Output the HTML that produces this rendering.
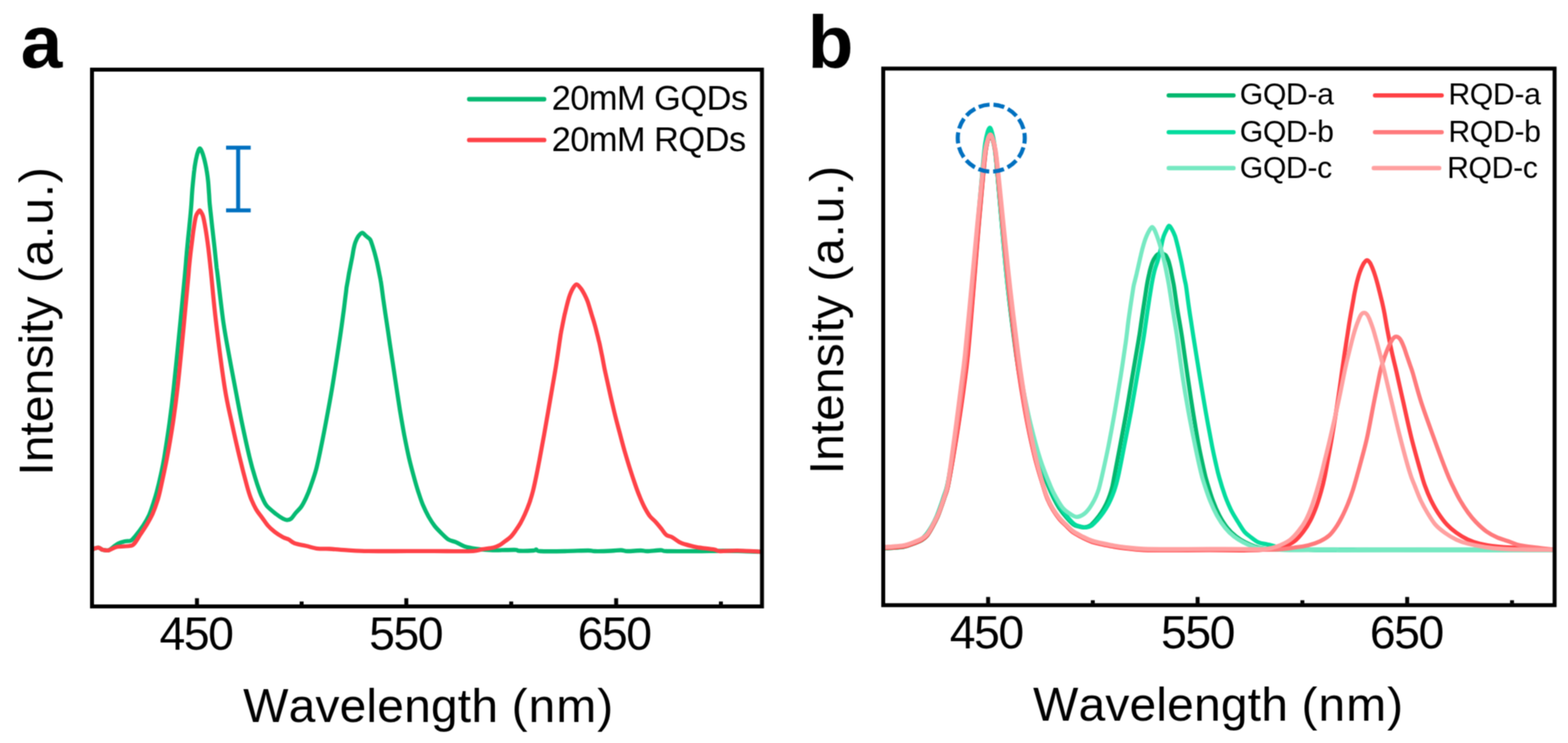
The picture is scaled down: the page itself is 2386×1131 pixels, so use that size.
<!DOCTYPE html>
<html lang="en"><head><meta charset="utf-8"><title>EL spectra</title>
<style>
html,body{margin:0;padding:0;background:#fff;}
body{width:2386px;height:1131px;overflow:hidden;}
svg{display:block;}
text{font-family:"Liberation Sans",sans-serif;fill:#000;font-kerning:none;}
.pl{font-weight:bold;font-size:114px;}
.ax{font-size:73px;letter-spacing:0.25px;}
.pw{letter-spacing:1.5px;}
.yl{letter-spacing:0.12px;}
.yl .pw{letter-spacing:1.15px;}
.tk{font-size:70.5px;text-anchor:middle;letter-spacing:-2.2px;}
.lga{font-size:52.4px;letter-spacing:-0.85px;}
.lgb{font-size:46px;letter-spacing:-0.6px;}
.c{fill:none;stroke-linejoin:round;stroke-linecap:butt;}
</style></head><body>
<svg width="2386" height="1131" viewBox="0 0 2386 1131">
<defs><filter id="soft" x="0" y="0" width="2386" height="1131" filterUnits="userSpaceOnUse" color-interpolation-filters="sRGB"><feConvolveMatrix order="3" kernelMatrix="1 2 1 2 4 2 1 2 1" divisor="16" edgeMode="duplicate" preserveAlpha="true"/></filter></defs>
<g filter="url(#soft)">
<rect width="2386" height="1131" fill="#fff"/>
<g id="panel-a">
<path class="c" d="M139.7,836.4C141.3,836.0 146.7,833.6 149.5,833.7C152.3,833.8 153.8,836.4 156.5,837.0C159.2,837.6 162.8,838.3 165.4,837.6C168.0,836.9 169.7,834.7 172.0,833.0C174.3,831.3 176.5,829.0 179.5,827.5C182.5,826.0 186.8,824.8 190.0,824.0C193.2,823.2 196.3,824.3 199.0,823.0C201.7,821.7 202.8,819.9 206.0,816.0C209.2,812.1 214.6,805.1 218.1,799.8C221.5,794.5 224.3,789.7 226.8,784.3C229.3,778.8 231.0,772.9 233.0,767.0C234.9,761.1 236.5,756.4 238.5,748.9C240.5,741.4 243.0,730.8 244.9,722.0C246.8,713.1 247.8,709.1 250.0,696.0C252.1,682.8 255.6,660.6 258.0,643.0C260.4,625.3 261.7,615.5 264.4,590.0C267.2,564.5 271.7,518.3 274.5,490.0C277.3,461.7 279.7,437.0 281.2,420.0C282.8,403.0 283.1,396.4 283.9,387.8C284.6,379.2 285.1,374.9 285.7,368.4C286.3,361.9 287.0,355.4 287.7,348.9C288.3,342.4 289.0,335.6 289.6,329.5C290.2,323.3 290.7,317.3 291.1,312.0C291.5,306.7 291.8,301.5 292.0,297.5C292.3,293.5 292.5,291.0 292.7,287.8C293.0,284.6 293.3,281.3 293.6,278.1C293.9,274.9 294.3,271.6 294.6,268.4C294.9,265.2 295.2,261.9 295.7,258.6C296.1,255.4 296.5,252.1 297.1,248.9C297.6,245.7 298.2,242.4 299.0,239.2C299.7,236.0 300.8,231.9 301.7,229.7C302.5,227.5 303.3,225.9 304.2,225.9C305.1,225.9 305.8,227.4 306.8,229.7C307.8,231.9 309.1,236.0 310.0,239.2C311.0,242.4 311.7,245.7 312.4,248.9C313.1,252.1 313.8,255.4 314.3,258.6C314.9,261.9 315.4,265.2 315.8,268.4C316.2,271.7 316.6,274.9 316.9,278.1C317.2,281.3 317.4,284.6 317.6,287.8C317.8,291.0 318.0,293.8 318.3,297.5C318.5,301.2 318.6,304.7 319.1,310.0C319.6,315.3 320.5,323.0 321.2,329.5C321.9,336.0 322.5,342.4 323.3,348.9C324.0,355.4 324.8,361.9 325.5,368.4C326.3,374.9 326.9,381.3 327.6,387.8C328.3,394.3 329.0,401.9 329.6,407.3C330.3,412.7 329.6,406.2 331.3,420.0C333.0,433.8 337.0,469.9 339.8,489.9C342.7,509.9 345.4,523.3 348.4,540.0C351.4,556.7 354.5,572.8 357.8,590.0C361.1,607.2 364.4,625.3 368.0,643.0C371.7,660.6 376.3,681.9 379.7,695.9C383.0,709.9 385.5,718.1 388.2,726.9C390.8,735.8 393.5,743.4 395.5,748.9C397.5,754.4 398.5,756.4 400.2,759.9C401.9,763.4 402.6,766.2 405.9,770.0C409.2,773.8 415.9,779.1 420.0,782.4C424.1,785.6 427.8,788.0 430.6,789.5C433.4,791.0 434.7,791.6 436.8,791.6C438.9,791.6 440.8,791.3 443.0,789.5C445.2,787.7 447.4,783.7 450.0,780.7C452.6,777.7 455.7,775.3 458.4,771.4C461.0,767.6 463.4,762.8 465.8,757.6C468.2,752.4 470.3,747.3 472.8,739.9C475.4,732.6 478.6,723.9 481.3,713.6C484.0,703.4 486.6,690.2 489.0,678.4C491.4,666.6 493.2,657.7 495.9,643.0C498.7,628.2 502.2,609.7 505.5,590.0C508.8,570.2 513.4,539.8 515.7,524.5C518.1,509.2 518.3,506.8 519.6,498.0C520.8,489.2 522.0,480.3 523.2,471.5C524.3,462.7 525.7,450.7 526.5,445.0C527.2,439.2 527.0,440.0 527.4,437.0C527.9,434.1 528.7,430.5 529.2,427.3C529.8,424.0 530.2,420.8 530.8,417.5C531.4,414.3 532.0,411.0 532.7,407.8C533.3,404.6 534.0,401.3 534.6,398.1C535.3,394.9 535.9,391.6 536.5,388.4C537.1,385.1 537.5,381.9 538.2,378.6C538.9,375.4 539.5,372.2 540.7,369.0C541.9,365.8 543.6,362.1 545.3,359.6C547.1,357.2 549.3,354.5 551.2,354.4C553.1,354.3 555.1,357.6 557.0,359.2C558.9,360.8 561.4,362.4 562.8,364.0C564.2,365.6 564.2,366.5 565.1,369.0C566.0,371.4 567.2,375.4 568.2,378.6C569.2,381.8 570.2,385.2 571.0,388.4C571.9,391.7 572.7,394.9 573.4,398.1C574.2,401.3 574.8,404.6 575.5,407.8C576.1,411.0 576.8,414.2 577.4,417.5C578.0,420.7 578.8,424.1 579.3,427.3C579.9,430.6 580.2,432.6 580.8,437.0C581.4,441.4 582.1,447.2 583.0,453.8C584.0,460.4 585.2,469.1 586.3,476.8C587.5,484.5 588.6,491.9 589.8,499.8C591.0,507.8 592.0,515.2 593.4,524.5C594.8,533.8 596.4,544.4 598.1,555.4C599.8,566.4 601.6,578.9 603.4,590.7C605.2,602.5 606.9,614.3 608.8,626.1C610.8,637.9 612.8,649.7 615.0,661.5C617.3,673.3 619.8,685.9 622.3,696.7C624.8,707.6 627.7,718.0 630.0,726.5C632.3,735.0 633.9,740.6 636.2,747.7C638.5,754.7 640.9,762.4 643.6,768.8C646.3,775.3 649.3,781.2 652.2,786.5C655.2,791.7 658.1,796.3 661.3,800.5C664.5,804.6 668.0,808.0 671.5,811.4C675.0,814.8 678.3,818.7 682.1,821.1C685.9,823.5 690.4,823.8 694.5,825.6C698.6,827.4 701.8,830.1 706.8,831.7C711.8,833.3 717.3,834.3 724.5,835.3C731.7,836.3 740.2,837.2 750.0,837.5C759.8,837.8 776.3,836.8 783.0,837.0C789.7,837.2 785.2,838.3 790.0,838.5C794.8,838.7 807.7,838.3 812.0,838.0C816.3,837.7 814.3,836.3 816.0,836.5C817.7,836.7 814.7,838.6 822.0,839.0C829.3,839.4 847.8,839.2 860.0,839.0C872.2,838.8 887.5,838.0 895.0,838.0C902.5,838.0 899.2,838.9 905.0,839.0C910.8,839.1 923.3,838.8 930.0,838.5C936.7,838.2 940.8,837.4 945.0,837.5C949.2,837.6 950.0,838.9 955.0,839.0C960.0,839.1 970.0,838.0 975.0,838.0C980.0,838.0 980.0,839.1 985.0,839.0C990.0,838.9 1000.0,837.5 1005.0,837.5C1010.0,837.5 1005.8,838.8 1015.0,839.0C1024.2,839.2 1045.8,839.1 1060.0,839.0C1074.2,838.9 1088.3,838.5 1100.0,838.5C1111.7,838.5 1120.2,838.8 1130.0,839.0C1139.8,839.2 1154.1,839.8 1158.9,840.0" stroke="#05ba72" stroke-width="6.3"/>
<path class="c" d="M139.7,836.4C141.3,836.0 146.7,833.6 149.5,833.7C152.3,833.8 153.8,836.4 156.5,837.0C159.2,837.6 161.9,838.4 165.4,837.6C168.9,836.9 172.4,833.6 177.7,832.5C183.0,831.4 192.8,831.8 197.2,831.0C201.6,830.2 201.7,830.3 204.3,827.5C207.0,824.7 209.9,819.2 213.1,814.3C216.3,809.4 220.3,803.6 223.5,798.3C226.7,792.9 229.5,788.1 232.2,782.2C234.8,776.3 237.4,769.0 239.3,762.9C241.3,756.9 241.3,757.1 243.8,746.0C246.3,734.8 251.1,713.1 254.3,695.9C257.6,678.8 260.6,660.6 263.3,643.0C265.9,625.3 267.4,615.5 270.2,590.0C273.1,564.5 277.5,518.3 280.2,490.0C283.0,461.7 285.4,433.8 286.7,420.0C287.9,406.2 287.2,412.7 287.7,407.3C288.2,401.9 289.0,394.3 289.7,387.8C290.4,381.3 291.3,374.9 292.1,368.4C292.9,361.9 293.6,355.4 294.6,348.9C295.6,342.5 296.8,334.1 298.0,329.7C299.2,325.3 300.6,324.3 301.5,322.7C302.5,321.1 303.0,320.2 303.7,320.2C304.4,320.2 304.9,321.1 305.8,322.7C306.7,324.3 307.9,325.3 309.1,329.7C310.3,334.0 311.8,342.5 312.9,348.9C314.0,355.4 314.9,361.9 315.8,368.4C316.7,374.9 317.5,381.3 318.2,387.8C319.0,394.3 319.7,401.9 320.3,407.3C320.9,412.7 320.3,406.2 321.6,420.0C323.0,433.8 325.3,461.7 328.7,490.0C332.1,518.3 337.9,564.3 341.9,589.8C345.9,615.3 348.8,625.3 352.6,643.0C356.4,660.7 360.7,679.8 364.6,695.9C368.5,712.1 373.1,729.7 375.9,740.0C378.7,750.2 379.2,751.7 381.4,757.6C383.7,763.4 386.7,770.0 389.6,775.1C392.4,780.1 395.7,783.6 398.7,787.8C401.7,791.9 404.4,796.3 407.6,800.0C410.8,803.7 414.4,806.8 418.2,809.8C422.0,812.8 427.1,815.9 430.6,817.8C434.2,819.7 436.6,819.8 439.5,821.3C442.4,822.8 443.9,825.4 448.3,827.0C452.7,828.6 460.1,829.6 466.0,831.0C471.9,832.4 477.8,834.4 483.7,835.1C489.6,835.9 493.6,835.1 501.3,835.5C509.0,835.9 520.2,837.1 530.0,837.6C539.8,838.1 548.3,838.6 560.0,838.8C571.7,839.0 586.7,839.0 600.0,839.0C613.3,839.0 626.7,838.8 640.0,838.8C653.3,838.8 666.7,839.0 680.0,839.0C693.3,839.0 711.1,839.3 720.0,838.8C728.9,838.3 728.2,837.1 733.4,836.2C738.6,835.3 746.6,834.5 751.0,833.5C755.4,832.5 756.9,831.6 759.9,830.0C762.9,828.4 765.8,826.0 768.7,823.8C771.7,821.6 775.0,819.4 777.6,816.7C780.2,814.0 782.2,811.1 784.5,807.8C786.8,804.6 789.1,801.3 791.5,797.2C793.8,793.0 796.2,788.3 798.6,783.0C801.0,777.7 803.6,771.2 805.7,765.3C807.7,759.4 809.2,754.7 811.0,747.6C812.7,740.6 814.8,730.9 816.4,723.0C818.1,715.0 818.9,710.2 820.9,700.0C822.8,689.7 825.7,673.8 828.0,661.5C830.2,649.2 832.1,637.9 834.2,626.1C836.2,614.3 838.3,602.5 840.3,590.7C842.3,578.9 844.4,567.7 846.3,555.4C848.3,543.1 850.8,525.0 852.0,517.0C853.2,509.0 852.9,510.6 853.5,507.3C854.0,504.1 854.8,500.7 855.4,497.5C856.0,494.2 856.7,491.0 857.3,487.8C858.0,484.6 858.6,481.3 859.4,478.1C860.1,474.9 860.9,471.6 861.7,468.4C862.5,465.2 863.3,461.9 864.2,458.6C865.1,455.4 866.0,452.1 867.2,448.9C868.4,445.8 869.8,442.2 871.5,439.5C873.2,436.8 875.2,432.9 877.3,432.9C879.4,432.9 882.1,436.9 884.2,439.5C886.3,442.2 888.1,445.8 889.8,449.0C891.4,452.1 892.9,455.4 894.1,458.7C895.3,461.9 896.2,465.2 897.2,468.4C898.2,471.6 899.1,474.9 900.1,478.1C901.1,481.3 902.1,484.6 903.1,487.8C904.1,491.0 905.0,494.3 905.9,497.5C906.8,500.8 907.6,504.1 908.4,507.3C909.2,510.5 910.1,513.9 910.8,517.0C911.6,520.1 912.0,521.3 912.9,525.6C913.8,530.0 915.2,537.0 916.5,543.2C917.7,549.4 918.9,556.2 920.2,562.7C921.6,569.2 922.9,574.8 924.5,582.1C926.1,589.4 928.0,598.0 929.9,606.5C931.9,615.0 934.0,624.1 936.2,633.0C938.4,641.8 940.8,650.8 943.2,659.6C945.5,668.5 947.8,677.2 950.3,686.1C952.9,694.9 955.5,703.7 958.3,712.6C961.1,721.4 964.6,731.9 967.1,739.1C969.6,746.3 971.1,750.4 973.4,755.8C975.6,761.3 977.9,766.7 980.5,771.7C983.1,776.6 985.9,781.7 988.8,785.6C991.8,789.4 995.0,791.5 998.0,794.8C1001.0,798.1 1004.1,802.2 1006.8,805.4C1009.4,808.7 1011.2,812.2 1013.9,814.3C1016.6,816.4 1019.5,816.0 1022.7,817.8C1026.0,819.6 1030.2,823.1 1033.4,824.9C1036.7,826.7 1037.8,827.1 1042.2,828.4C1046.6,829.7 1052.5,831.5 1059.9,832.8C1067.3,834.1 1080.5,835.4 1086.4,836.4C1092.3,837.4 1089.4,838.7 1095.3,839.0C1101.2,839.3 1111.2,838.0 1121.8,838.1C1132.4,838.2 1152.7,839.6 1158.9,839.9" stroke="#ff4248" stroke-width="6.3"/>
<rect x="140" y="106" width="1019.5" height="817.1" fill="none" stroke="#000" stroke-width="6"/>
<rect x="296.7" y="910.6" width="6" height="10" fill="#000"/>
<rect x="615.3" y="910.6" width="6" height="10" fill="#000"/>
<rect x="934.6" y="910.6" width="6" height="10" fill="#000"/>
<rect x="456" y="915.6" width="6" height="5" fill="#000"/>
<rect x="774.9" y="915.6" width="6" height="5" fill="#000"/>
<rect x="1094" y="915.6" width="6" height="5" fill="#000"/>
<g stroke="#0070c0" stroke-width="6.1" fill="none"><line x1="362.4" y1="224.8" x2="362.4" y2="320.3"/><line x1="344" y1="224.8" x2="381.5" y2="224.8"/><line x1="344" y1="320.3" x2="381.5" y2="320.3"/></g>
<line x1="714" y1="151" x2="828" y2="151" stroke="#05ba72" stroke-width="6.8" stroke-linecap="round"/>
<line x1="714" y1="213.2" x2="828" y2="213.2" stroke="#ff4248" stroke-width="6.8" stroke-linecap="round"/>
<text class="lga" x="839.5" y="167.3">20mM GQDs</text>
<text class="lga" x="839.5" y="229.7">20mM RQDs</text>
<text class="pl" x="31.5" y="103">a</text>
<text class="ax yl" transform="translate(80.1,724) rotate(-90)">Intensity <tspan class="pw">(a.u.)</tspan></text>
<text class="tk" x="298.2" y="988.9">450</text>
<text class="tk" x="617.3" y="988.9">550</text>
<text class="tk" x="934.6" y="988.9">650</text>
<text class="ax" x="370" y="1098.6">Wavelength <tspan class="pw">(nm)</tspan></text>
</g>
<g id="panel-b">
<path class="c" d="M1343.5,834.7C1345.9,834.6 1352.4,834.5 1357.7,834.1C1363.0,833.7 1370.1,833.3 1375.4,832.3C1380.7,831.3 1385.1,829.5 1389.5,827.9C1393.9,826.3 1398.4,824.6 1401.9,822.6C1405.4,820.5 1407.8,819.2 1410.7,815.6C1413.6,812.0 1416.8,806.0 1419.4,801.3C1422.0,796.6 1424.4,791.9 1426.5,787.2C1428.5,782.5 1430.1,778.0 1431.9,772.9C1433.7,767.9 1435.7,762.2 1437.4,756.8C1439.1,751.4 1440.3,750.1 1442.3,740.5C1444.4,730.9 1447.1,714.8 1449.7,699.0C1452.3,683.2 1455.3,663.6 1458.0,646.0C1460.6,628.3 1463.2,610.7 1465.6,593.0C1467.9,575.3 1469.6,565.4 1472.2,539.9C1474.7,514.4 1478.0,473.3 1480.9,440.0C1483.7,406.7 1486.7,369.4 1489.3,340.0C1491.8,310.6 1494.4,282.4 1496.2,263.8C1498.0,245.2 1498.7,237.2 1500.0,228.5C1501.2,219.7 1502.5,215.1 1503.7,211.2C1504.9,207.3 1506.0,205.0 1507.1,205.0C1508.2,205.0 1509.1,207.3 1510.2,211.2C1511.4,215.1 1512.7,219.7 1514.0,228.5C1515.2,237.2 1515.9,245.2 1517.6,263.8C1519.3,282.4 1521.6,310.6 1524.3,340.0C1526.9,369.4 1530.0,406.6 1533.7,439.9C1537.4,473.3 1542.8,514.4 1546.3,539.9C1549.9,565.4 1551.9,575.3 1555.2,593.0C1558.5,610.6 1561.9,628.3 1566.0,645.9C1570.1,663.5 1575.1,683.1 1580.0,698.7C1584.8,714.4 1591.3,730.1 1595.2,739.9C1599.1,749.7 1600.4,752.2 1603.1,757.6C1605.8,763.1 1608.2,767.7 1611.4,772.7C1614.7,777.7 1619.2,783.4 1622.9,787.7C1626.6,792.0 1630.3,796.1 1633.5,798.4C1636.7,800.7 1639.2,800.8 1642.0,801.5C1644.8,802.2 1647.2,803.0 1650.0,802.8C1652.8,802.5 1656.1,801.9 1659.0,800.0C1661.9,798.1 1664.7,794.5 1667.5,791.3C1670.3,788.1 1673.2,784.4 1675.7,780.5C1678.3,776.7 1680.6,772.6 1682.8,768.2C1684.9,763.8 1687.1,758.7 1688.7,754.0C1690.4,749.3 1691.4,745.6 1692.8,739.9C1694.1,734.3 1694.7,730.2 1696.6,720.0C1698.6,709.9 1701.5,694.7 1704.4,679.0C1707.4,663.3 1711.0,643.6 1714.2,626.0C1717.3,608.3 1720.1,591.0 1723.1,573.0C1726.2,555.0 1730.6,529.2 1732.5,518.0C1734.4,506.8 1733.6,511.6 1734.5,505.7C1735.3,499.8 1736.7,490.1 1737.8,482.7C1738.9,475.3 1739.8,469.1 1741.0,461.5C1742.2,453.9 1743.8,442.7 1744.7,437.0C1745.7,431.3 1745.8,430.6 1746.4,427.3C1747.1,424.1 1747.7,420.8 1748.5,417.5C1749.2,414.3 1749.9,411.0 1750.9,407.8C1751.8,404.6 1752.7,401.1 1754.0,398.2C1755.2,395.3 1757.0,392.4 1758.4,390.5C1759.7,388.6 1760.7,387.8 1762.0,387.0C1763.3,386.2 1765.0,386.0 1766.4,385.9C1767.8,385.8 1769.3,386.2 1770.5,386.6C1771.7,387.0 1772.7,387.3 1773.7,388.4C1774.7,389.5 1775.7,391.6 1776.5,393.3C1777.3,394.9 1777.6,395.7 1778.4,398.1C1779.1,400.6 1780.2,404.6 1780.9,407.8C1781.7,411.0 1782.2,414.3 1782.9,417.5C1783.5,420.7 1784.2,424.0 1784.8,427.3C1785.4,430.6 1785.6,430.2 1786.6,437.0C1787.7,443.9 1789.8,459.7 1791.2,468.5C1792.5,477.3 1793.4,481.8 1794.8,489.8C1796.1,497.8 1797.1,502.5 1799.1,516.3C1801.2,530.2 1804.5,554.7 1807.2,573.0C1809.9,591.3 1812.4,608.3 1815.2,626.0C1818.1,643.6 1821.3,663.3 1824.2,678.9C1827.2,694.6 1830.9,710.6 1833.0,720.0C1835.1,729.3 1835.0,728.0 1837.0,735.0C1839.1,742.0 1842.4,753.5 1845.5,761.7C1848.5,770.0 1851.8,777.7 1855.5,784.7C1859.2,791.7 1863.4,798.4 1867.7,803.7C1871.9,809.1 1876.4,813.1 1881.0,816.7C1885.6,820.3 1890.3,823.1 1895.0,825.6C1899.7,828.1 1905.0,830.2 1909.0,831.7C1913.0,833.2 1913.8,833.6 1919.0,834.4C1924.2,835.2 1929.8,836.1 1940.0,836.5C1950.2,836.9 1956.7,836.9 1980.0,837.0C2003.3,837.1 2046.7,837.0 2080.0,837.0C2113.3,837.0 2146.7,837.0 2180.0,837.0C2213.3,837.0 2249.2,837.0 2280.0,837.0C2310.8,837.0 2350.8,837.0 2365.0,837.0" stroke="#04b76e" stroke-width="6.3"/>
<path class="c" d="M1342.5,833.7C1344.9,833.6 1351.4,833.5 1356.7,833.0C1362.0,832.6 1369.1,832.3 1374.4,831.2C1379.7,830.2 1384.1,828.4 1388.5,826.7C1392.9,825.1 1397.5,823.5 1400.9,821.4C1404.3,819.2 1406.3,817.4 1409.2,813.8C1412.1,810.2 1415.7,804.4 1418.4,799.7C1421.1,795.0 1423.4,790.2 1425.5,785.4C1427.6,780.6 1429.1,776.1 1430.9,771.0C1432.8,765.9 1434.7,760.2 1436.4,754.8C1438.2,749.4 1439.4,748.1 1441.4,738.4C1443.5,728.7 1446.3,712.6 1449.0,696.7C1451.7,680.8 1454.8,660.8 1457.6,642.8C1460.3,624.9 1462.9,606.9 1465.3,589.0C1467.6,571.0 1469.3,560.9 1471.9,535.0C1474.4,509.1 1477.7,467.3 1480.4,433.4C1483.2,399.6 1486.1,361.6 1488.6,331.8C1491.1,301.9 1493.7,273.2 1495.4,254.3C1497.2,235.4 1497.9,227.3 1499.1,218.4C1500.4,209.5 1501.6,204.8 1502.8,200.8C1504.0,196.9 1505.0,194.5 1506.1,194.5C1507.2,194.5 1508.1,196.8 1509.3,200.8C1510.4,204.8 1511.8,209.5 1513.0,218.4C1514.3,227.3 1515.0,235.4 1516.7,254.3C1518.5,273.2 1520.7,301.9 1523.4,331.8C1526.2,361.6 1529.3,399.5 1533.1,433.4C1536.9,467.2 1542.5,509.1 1546.2,535.0C1549.9,560.9 1552.0,571.0 1555.4,588.9C1558.7,606.9 1562.2,624.8 1566.4,642.7C1570.6,660.7 1575.5,680.2 1580.6,696.4C1585.7,712.6 1593.1,729.7 1597.2,739.9C1601.3,750.1 1602.4,752.1 1605.2,757.6C1608.0,763.1 1610.6,767.7 1613.9,772.8C1617.2,777.8 1621.4,783.4 1625.0,787.7C1628.6,792.0 1632.2,796.1 1635.5,798.4C1638.8,800.7 1641.7,800.8 1644.5,801.5C1647.3,802.2 1649.8,803.0 1652.5,802.8C1655.2,802.5 1658.1,801.9 1661.0,800.0C1663.9,798.1 1667.0,794.5 1670.0,791.3C1673.0,788.1 1676.0,784.4 1678.7,780.5C1681.4,776.6 1683.9,772.6 1686.3,768.2C1688.6,763.8 1690.9,758.7 1692.8,754.0C1694.7,749.3 1696.1,745.6 1697.7,739.9C1699.4,734.2 1700.4,730.1 1702.6,720.0C1704.8,709.8 1707.7,694.7 1710.7,679.0C1713.8,663.3 1717.8,643.6 1721.1,626.0C1724.3,608.3 1727.2,590.7 1730.3,573.0C1733.3,555.3 1737.3,532.7 1739.3,520.0C1741.4,507.3 1741.7,504.2 1742.8,496.8C1743.9,489.4 1744.8,482.7 1745.8,475.6C1746.9,468.5 1748.0,460.8 1749.0,454.4C1750.0,448.0 1751.1,441.5 1751.8,437.0C1752.5,432.5 1752.8,430.6 1753.5,427.3C1754.1,424.1 1754.7,420.8 1755.5,417.5C1756.2,414.3 1757.0,411.1 1758.0,407.9C1759.0,404.6 1760.3,401.3 1761.3,398.0C1762.3,394.8 1763.1,391.6 1763.9,388.4C1764.7,385.2 1765.6,381.8 1766.3,378.6C1767.1,375.3 1767.6,372.1 1768.3,368.9C1769.1,365.7 1769.7,362.5 1770.8,359.3C1772.0,356.1 1773.9,352.2 1775.3,349.6C1776.6,347.0 1777.6,343.6 1779.0,343.6C1780.4,343.6 1782.1,347.1 1783.6,349.7C1785.1,352.3 1786.8,356.1 1788.0,359.3C1789.1,362.5 1789.8,365.7 1790.7,368.9C1791.5,372.1 1792.3,375.4 1793.1,378.6C1793.8,381.9 1794.6,385.1 1795.3,388.4C1796.0,391.6 1796.8,394.9 1797.5,398.1C1798.1,401.3 1798.8,404.6 1799.4,407.8C1800.0,411.0 1800.5,414.2 1801.1,417.5C1801.7,420.7 1802.4,424.0 1803.1,427.3C1803.7,430.5 1804.1,430.5 1805.0,437.0C1806.0,443.6 1807.7,458.0 1809.0,466.8C1810.2,475.6 1811.2,481.9 1812.5,489.8C1813.7,497.8 1814.1,500.6 1816.3,514.5C1818.5,528.4 1822.7,554.4 1825.7,573.0C1828.8,591.6 1831.5,608.3 1834.6,626.0C1837.7,643.6 1841.8,665.8 1844.4,679.0C1847.0,692.1 1848.2,697.1 1850.0,705.0C1851.8,712.9 1852.8,718.1 1855.2,726.4C1857.5,734.7 1861.2,746.5 1864.1,754.7C1867.1,762.9 1869.8,769.3 1873.0,775.8C1876.2,782.3 1879.9,788.0 1883.3,793.6C1886.8,799.3 1890.3,805.5 1893.8,809.6C1897.3,813.7 1901.0,815.8 1904.5,818.5C1908.0,821.2 1911.6,824.0 1915.1,825.6C1918.6,827.2 1922.5,827.5 1925.7,828.2C1928.9,828.9 1930.5,829.0 1934.5,830.0C1938.5,831.0 1944.1,832.9 1950.0,834.0C1955.9,835.1 1961.7,836.0 1970.0,836.5C1978.3,837.0 1981.7,836.9 2000.0,837.0C2018.3,837.1 2050.0,837.0 2080.0,837.0C2110.0,837.0 2146.7,837.0 2180.0,837.0C2213.3,837.0 2249.2,837.0 2280.0,837.0C2310.8,837.0 2350.8,837.0 2365.0,837.0" stroke="#04dc9e" stroke-width="6.3"/>
<path class="c" d="M1343.5,833.0C1345.9,832.9 1352.4,832.8 1357.7,832.4C1363.0,832.0 1370.1,831.6 1375.4,830.6C1380.7,829.6 1385.1,827.8 1389.5,826.2C1393.9,824.6 1398.4,823.0 1401.9,820.9C1405.4,818.8 1407.8,817.5 1410.7,813.9C1413.6,810.3 1416.8,804.3 1419.4,799.6C1422.0,794.9 1424.4,790.2 1426.5,785.5C1428.6,780.8 1430.1,776.4 1431.9,771.4C1433.7,766.4 1435.7,760.9 1437.4,755.6C1439.1,750.3 1440.2,749.1 1442.3,739.6C1444.3,730.2 1446.9,714.6 1449.5,699.0C1452.0,683.4 1455.1,663.6 1457.7,646.0C1460.3,628.3 1462.9,610.7 1465.2,593.0C1467.6,575.3 1469.2,565.4 1471.8,539.9C1474.4,514.4 1477.7,473.3 1480.6,440.0C1483.5,406.7 1486.5,369.4 1489.1,340.0C1491.7,310.6 1494.3,282.4 1496.1,263.8C1497.9,245.2 1498.6,237.2 1499.9,228.5C1501.2,219.7 1502.5,215.1 1503.7,211.2C1504.9,207.3 1506.0,205.0 1507.1,205.0C1508.2,205.0 1509.1,207.3 1510.3,211.2C1511.4,215.1 1512.8,219.7 1514.0,228.5C1515.3,237.2 1516.0,245.2 1517.7,263.8C1519.5,282.4 1521.7,310.6 1524.4,340.0C1527.2,369.3 1530.3,406.6 1534.1,439.9C1538.0,473.2 1543.9,514.4 1547.7,539.9C1551.6,565.4 1553.7,575.3 1557.1,593.0C1560.6,610.6 1564.1,628.3 1568.4,645.9C1572.7,663.5 1577.8,683.1 1582.8,698.7C1587.8,714.4 1594.4,730.1 1598.5,739.9C1602.6,749.7 1604.1,751.9 1607.3,757.5C1610.5,763.1 1613.8,769.3 1617.6,773.6C1621.4,777.9 1626.5,781.1 1630.0,783.3C1633.5,785.5 1635.5,787.0 1638.8,786.9C1642.0,786.8 1646.3,784.7 1649.5,782.4C1652.7,780.1 1655.3,776.8 1657.9,773.3C1660.5,769.7 1663.1,765.2 1665.2,761.1C1667.3,757.0 1669.2,752.3 1670.5,748.7C1671.9,745.2 1672.0,744.8 1673.2,740.0C1674.4,735.2 1675.7,730.2 1677.9,720.0C1680.2,709.8 1683.6,694.6 1686.7,679.0C1689.8,663.3 1693.4,643.6 1696.5,626.0C1699.6,608.3 1702.5,590.6 1705.3,573.0C1708.1,555.3 1711.2,534.1 1713.2,520.0C1715.1,505.8 1715.9,497.2 1717.1,488.0C1718.3,478.9 1719.2,473.5 1720.4,465.0C1721.7,456.5 1723.7,443.3 1724.7,437.0C1725.8,430.8 1726.2,430.6 1727.0,427.3C1727.8,424.0 1728.6,420.7 1729.4,417.5C1730.1,414.2 1730.9,411.0 1731.6,407.8C1732.3,404.6 1733.1,401.3 1733.8,398.1C1734.5,394.9 1735.2,391.7 1736.0,388.4C1736.7,385.2 1737.6,381.9 1738.4,378.6C1739.3,375.4 1740.2,372.2 1741.2,368.9C1742.2,365.7 1743.3,362.5 1744.7,359.3C1746.1,356.1 1748.2,352.0 1749.6,349.7C1751.0,347.4 1752.0,345.6 1753.2,345.6C1754.4,345.6 1755.5,347.5 1756.7,349.8C1757.9,352.0 1759.3,356.0 1760.5,359.2C1761.7,362.4 1762.8,365.7 1763.8,368.9C1764.9,372.2 1765.8,375.4 1766.7,378.6C1767.6,381.9 1768.5,385.2 1769.3,388.4C1770.1,391.7 1770.9,394.9 1771.6,398.1C1772.4,401.3 1773.0,404.6 1773.7,407.8C1774.3,411.0 1775.0,414.3 1775.6,417.5C1776.2,420.8 1776.9,424.1 1777.5,427.3C1778.1,430.6 1778.2,430.7 1779.2,437.0C1780.2,443.3 1782.2,456.5 1783.5,465.0C1784.9,473.5 1785.9,479.7 1787.2,488.0C1788.5,496.3 1789.4,500.4 1791.4,514.5C1793.5,528.7 1796.7,554.4 1799.5,573.0C1802.3,591.5 1805.1,608.3 1808.3,626.0C1811.5,643.6 1815.5,663.3 1818.7,679.0C1821.9,694.6 1825.4,710.5 1827.7,719.9C1829.9,729.3 1829.8,728.4 1832.1,735.4C1834.3,742.3 1837.9,753.5 1841.2,761.7C1844.5,770.0 1848.0,777.7 1851.8,784.7C1855.7,791.7 1860.1,798.4 1864.5,803.7C1868.8,809.1 1873.3,813.1 1877.9,816.7C1882.5,820.3 1887.4,823.1 1892.1,825.6C1896.8,828.1 1902.1,830.2 1906.2,831.7C1910.3,833.2 1911.2,833.6 1916.8,834.4C1922.4,835.2 1929.5,836.1 1940.0,836.5C1950.5,836.9 1965.0,837.0 1980.0,837.0C1995.0,837.0 2020.0,836.4 2030.0,836.5C2040.0,836.6 2031.7,837.4 2040.0,837.5C2048.3,837.6 2065.0,837.1 2080.0,837.0C2095.0,836.9 2113.3,836.8 2130.0,836.8C2146.7,836.8 2163.3,837.2 2180.0,837.2C2196.7,837.2 2213.3,837.0 2230.0,837.0C2246.7,837.0 2263.3,837.3 2280.0,837.3C2296.7,837.3 2315.8,837.0 2330.0,837.0C2344.2,837.0 2359.2,837.0 2365.0,837.0" stroke="#76e9c2" stroke-width="6.3"/>
<path class="c" d="M1343.5,834.3C1345.9,834.2 1352.4,834.1 1357.7,833.7C1363.0,833.3 1370.1,832.9 1375.4,831.9C1380.7,830.9 1385.1,829.1 1389.5,827.5C1393.9,825.9 1398.4,824.2 1401.9,822.2C1405.4,820.1 1407.8,818.8 1410.7,815.2C1413.6,811.6 1416.8,805.6 1419.4,800.9C1422.0,796.2 1424.4,791.5 1426.5,786.8C1428.6,782.1 1430.1,777.6 1431.9,772.6C1433.8,767.5 1435.7,761.9 1437.4,756.5C1439.2,751.2 1440.4,749.9 1442.5,740.3C1444.5,730.7 1447.3,714.7 1450.0,699.0C1452.7,683.3 1455.9,663.6 1458.6,646.0C1461.3,628.3 1463.9,610.7 1466.3,593.0C1468.6,575.3 1470.3,565.4 1472.9,539.9C1475.4,514.4 1478.7,473.3 1481.4,440.0C1484.2,406.7 1487.1,369.4 1489.6,340.0C1492.1,310.6 1494.7,282.4 1496.4,263.8C1498.2,245.2 1498.9,237.2 1500.1,228.5C1501.4,219.7 1502.6,215.1 1503.8,211.2C1505.0,207.3 1506.0,205.0 1507.1,205.0C1508.2,205.0 1509.2,207.3 1510.4,211.2C1511.7,215.1 1513.1,219.7 1514.4,228.5C1515.7,237.2 1516.5,245.2 1518.3,263.8C1520.1,282.4 1522.6,310.6 1525.4,340.0C1528.2,369.4 1531.6,406.6 1535.1,440.0C1538.6,473.3 1543.3,514.4 1546.5,539.9C1549.7,565.4 1551.4,575.3 1554.2,593.0C1557.1,610.6 1559.9,628.3 1563.5,645.9C1567.0,663.6 1571.3,683.0 1575.3,698.9C1579.4,714.7 1584.6,731.0 1587.6,740.9C1590.6,750.8 1590.9,752.6 1593.4,758.4C1595.8,764.3 1599.0,770.7 1602.1,776.0C1605.3,781.4 1608.8,786.2 1612.3,790.4C1615.8,794.6 1619.4,797.6 1622.9,801.0C1626.4,804.4 1629.4,807.8 1633.5,810.7C1637.6,813.6 1643.0,816.3 1647.7,818.7C1652.4,821.1 1657.1,823.3 1661.8,824.9C1666.5,826.5 1670.7,827.2 1676.0,828.4C1681.3,829.6 1687.8,831.0 1693.7,832.0C1699.6,833.0 1703.7,833.7 1711.4,834.6C1719.1,835.5 1726.9,836.8 1740.0,837.3C1753.1,837.8 1773.3,837.7 1790.0,837.7C1806.7,837.7 1821.7,837.4 1840.0,837.4C1858.3,837.4 1885.0,837.9 1900.0,837.7C1915.0,837.5 1921.3,836.9 1930.0,836.0C1938.7,835.1 1945.5,834.6 1952.2,832.6C1958.9,830.6 1964.7,827.7 1969.9,823.8C1975.1,819.9 1979.4,814.5 1983.4,809.2C1987.5,803.8 1990.9,798.2 1994.2,791.8C1997.5,785.4 2000.5,777.9 2003.2,770.6C2005.9,763.2 2008.3,755.0 2010.4,747.6C2012.5,740.3 2014.0,734.4 2015.6,726.4C2017.3,718.5 2018.7,710.1 2020.6,700.0C2022.4,689.9 2024.3,680.5 2026.7,666.0C2029.2,651.5 2032.7,629.9 2035.3,613.0C2037.9,596.1 2040.5,576.7 2042.2,564.5C2044.0,552.3 2044.6,547.8 2045.8,539.8C2047.0,531.9 2048.1,524.5 2049.3,516.8C2050.5,509.1 2051.8,500.4 2052.8,493.8C2053.9,487.2 2054.9,481.7 2055.6,477.3C2056.4,472.9 2056.8,470.7 2057.4,467.5C2058.0,464.2 2058.5,461.0 2059.1,457.8C2059.7,454.6 2060.2,451.3 2060.8,448.1C2061.4,444.9 2062.1,441.7 2062.8,438.4C2063.5,435.2 2064.2,431.9 2065.0,428.6C2065.9,425.4 2066.7,422.2 2067.7,418.9C2068.7,415.7 2069.8,412.4 2071.1,409.3C2072.5,406.1 2074.3,402.1 2075.9,399.9C2077.4,397.7 2078.7,396.1 2080.2,396.1C2081.7,396.1 2083.1,397.7 2084.6,399.9C2086.0,402.1 2087.6,406.1 2088.9,409.2C2090.2,412.4 2091.3,415.7 2092.3,418.9C2093.4,422.2 2094.3,425.4 2095.2,428.6C2096.1,431.9 2097.0,435.2 2097.8,438.4C2098.6,441.6 2099.4,444.9 2100.2,448.1C2101.0,451.3 2101.8,454.6 2102.6,457.8C2103.4,461.0 2104.1,464.3 2104.8,467.5C2105.5,470.8 2105.7,471.7 2106.8,477.3C2107.8,482.9 2109.5,493.4 2110.9,500.9C2112.3,508.3 2113.6,515.0 2115.0,522.1C2116.5,529.2 2117.9,535.9 2119.6,543.3C2121.2,550.6 2122.5,554.7 2125.1,566.3C2127.8,578.0 2131.8,596.4 2135.6,613.0C2139.3,629.6 2143.2,648.2 2147.6,665.9C2152.0,683.5 2158.6,706.7 2162.1,719.0C2165.6,731.3 2165.9,732.9 2168.5,739.9C2171.0,746.9 2174.0,754.3 2177.3,761.1C2180.6,767.8 2184.0,774.2 2188.1,780.4C2192.2,786.6 2197.1,793.3 2201.7,798.4C2206.3,803.5 2210.6,806.9 2215.9,810.7C2221.2,814.5 2227.7,818.5 2233.6,821.3C2239.5,824.1 2243.9,825.7 2251.3,827.5C2258.7,829.3 2269.0,831.0 2277.8,832.0C2286.6,833.0 2293.9,833.0 2304.3,833.7C2314.7,834.4 2329.9,835.5 2340.0,836.0C2350.1,836.5 2360.8,836.4 2365.0,836.5" stroke="#ff4044" stroke-width="6.3"/>
<path class="c" d="M1343.5,833.4C1345.9,833.3 1352.4,833.2 1357.7,832.8C1363.0,832.4 1370.1,832.0 1375.4,831.0C1380.7,830.0 1385.1,828.2 1389.5,826.6C1393.9,825.0 1398.4,823.3 1401.9,821.3C1405.4,819.2 1407.8,817.9 1410.7,814.3C1413.6,810.7 1416.8,804.7 1419.4,800.0C1422.0,795.3 1424.4,790.6 1426.5,785.9C1428.6,781.2 1430.1,776.8 1431.9,771.8C1433.7,766.8 1435.6,761.2 1437.3,755.9C1439.0,750.6 1440.1,749.3 1442.1,739.9C1444.0,730.4 1446.5,714.6 1449.0,699.0C1451.4,683.4 1454.3,663.6 1456.9,646.0C1459.4,628.3 1461.8,610.7 1464.2,593.0C1466.5,575.3 1468.2,565.4 1470.8,539.9C1473.4,514.4 1476.8,473.3 1479.8,440.0C1482.8,406.7 1485.9,369.4 1488.5,340.0C1491.2,310.6 1493.9,282.4 1495.7,263.8C1497.6,245.2 1498.4,237.2 1499.7,228.5C1501.0,219.7 1502.3,215.1 1503.6,211.2C1504.8,207.3 1505.9,205.0 1507.1,205.0C1508.3,205.0 1509.3,207.3 1510.5,211.2C1511.8,215.1 1513.2,219.7 1514.6,228.5C1515.9,237.2 1516.7,245.2 1518.5,263.8C1520.4,282.4 1522.9,310.6 1525.7,340.0C1528.6,369.4 1532.1,406.6 1535.7,440.0C1539.3,473.3 1544.0,514.4 1547.3,540.0C1550.5,565.5 1552.2,575.3 1555.0,593.0C1557.8,610.6 1560.6,628.3 1564.1,645.9C1567.5,663.6 1571.8,683.2 1575.8,698.9C1579.7,714.5 1584.7,730.2 1587.6,740.0C1590.5,749.8 1590.9,751.7 1593.4,757.5C1595.8,763.4 1599.0,769.8 1602.1,775.1C1605.3,780.5 1608.8,785.3 1612.3,789.5C1615.8,793.7 1619.4,796.7 1622.9,800.1C1626.4,803.5 1629.4,806.8 1633.5,809.8C1637.6,812.8 1643.0,815.4 1647.7,817.8C1652.4,820.2 1657.1,822.4 1661.8,824.0C1666.5,825.6 1670.7,826.3 1676.0,827.5C1681.3,828.7 1687.8,830.1 1693.7,831.1C1699.6,832.1 1703.7,832.8 1711.4,833.7C1719.1,834.6 1726.9,835.9 1740.0,836.4C1753.1,836.9 1773.3,836.8 1790.0,836.8C1806.7,836.8 1821.7,836.5 1840.0,836.5C1858.3,836.5 1883.3,836.8 1900.0,836.8C1916.7,836.8 1928.3,837.1 1940.0,836.6C1951.7,836.1 1961.4,834.6 1969.9,833.5C1978.4,832.4 1984.6,831.6 1991.1,830.0C1997.6,828.4 2003.5,826.3 2008.8,823.8C2014.1,821.3 2018.9,818.5 2022.9,814.9C2026.9,811.3 2029.9,807.0 2033.1,802.3C2036.3,797.6 2039.2,792.4 2042.2,786.5C2045.2,780.6 2048.3,773.6 2051.0,767.1C2053.6,760.6 2055.7,755.0 2058.1,747.6C2060.5,740.3 2063.1,730.9 2065.3,723.0C2067.6,715.0 2069.1,709.5 2071.6,700.0C2074.1,690.5 2077.1,680.4 2080.3,665.9C2083.5,651.4 2087.4,629.3 2090.6,613.0C2093.9,596.7 2097.7,577.3 2099.7,568.0C2101.7,558.8 2101.3,561.5 2102.5,557.4C2103.7,553.3 2105.3,548.0 2106.9,543.3C2108.6,538.7 2110.5,533.4 2112.3,529.3C2114.1,525.2 2116.2,521.2 2117.6,518.6C2119.1,516.1 2119.9,515.0 2121.0,514.0C2122.1,513.0 2123.2,512.4 2124.5,512.4C2125.8,512.4 2127.2,513.0 2128.5,514.0C2129.8,515.0 2130.7,516.2 2132.1,518.7C2133.4,521.2 2135.1,525.2 2136.7,529.3C2138.2,533.4 2139.9,538.9 2141.4,543.3C2142.9,547.7 2144.3,551.6 2145.7,555.7C2147.1,559.8 2147.0,558.6 2149.9,568.1C2152.7,577.6 2157.5,596.5 2162.8,612.8C2168.1,629.1 2175.2,648.3 2181.6,666.0C2188.0,683.7 2196.5,706.5 2201.4,718.9C2206.2,731.2 2207.4,732.9 2210.7,739.9C2214.1,747.0 2217.6,754.3 2221.5,761.0C2225.4,767.8 2229.9,774.8 2234.0,780.4C2238.1,786.0 2241.3,790.0 2246.0,794.8C2250.7,799.6 2256.6,805.2 2261.9,809.0C2267.2,812.8 2272.2,815.3 2277.8,817.8C2283.4,820.3 2289.6,821.9 2295.5,824.0C2301.4,826.1 2305.7,828.6 2313.1,830.2C2320.5,831.8 2331.4,832.7 2339.7,833.7C2348.0,834.7 2358.9,836.0 2362.7,836.4" stroke="#ff7a7c" stroke-width="6.3"/>
<path class="c" d="M1343.5,832.4C1345.9,832.3 1352.4,832.2 1357.7,831.8C1363.0,831.4 1370.1,831.0 1375.4,830.0C1380.7,829.0 1385.1,827.2 1389.5,825.6C1393.9,824.0 1398.4,822.3 1401.9,820.3C1405.4,818.2 1407.8,816.9 1410.7,813.3C1413.6,809.7 1416.8,803.7 1419.4,799.0C1422.0,794.3 1424.4,789.6 1426.5,784.9C1428.6,780.2 1430.1,775.8 1431.9,770.9C1433.7,765.9 1435.6,760.4 1437.2,755.2C1438.8,749.9 1439.9,748.7 1441.6,739.4C1443.4,730.0 1445.5,714.6 1447.7,699.0C1449.9,683.4 1452.6,663.7 1454.9,646.0C1457.2,628.3 1459.5,610.7 1461.7,593.0C1463.9,575.3 1465.6,565.5 1468.3,540.0C1471.0,514.4 1474.7,473.3 1477.9,440.0C1481.0,406.7 1484.4,369.4 1487.2,340.0C1490.1,310.6 1493.0,282.4 1494.9,263.8C1496.9,245.2 1497.8,237.2 1499.1,228.5C1500.5,219.7 1502.0,215.2 1503.3,211.3C1504.6,207.3 1505.9,205.0 1507.1,205.0C1508.3,205.0 1509.4,207.3 1510.7,211.2C1512.0,215.1 1513.6,219.7 1515.0,228.5C1516.4,237.2 1517.2,245.2 1519.2,263.8C1521.2,282.4 1523.8,310.6 1526.9,340.0C1529.9,369.4 1533.6,406.6 1537.4,440.0C1541.2,473.3 1546.3,514.5 1549.6,540.0C1552.9,565.5 1554.6,575.3 1557.3,593.0C1560.1,610.7 1562.7,628.3 1566.0,645.9C1569.3,663.6 1573.3,683.4 1576.9,698.9C1580.5,714.4 1584.9,729.5 1587.7,739.1C1590.4,748.7 1590.9,750.8 1593.4,756.6C1595.8,762.5 1599.0,768.9 1602.1,774.2C1605.3,779.6 1608.8,784.4 1612.3,788.6C1615.8,792.8 1619.4,795.8 1622.9,799.2C1626.4,802.6 1629.4,806.0 1633.5,808.9C1637.6,811.8 1643.0,814.5 1647.7,816.9C1652.4,819.3 1657.1,821.5 1661.8,823.1C1666.5,824.7 1670.7,825.4 1676.0,826.6C1681.3,827.8 1687.8,829.2 1693.7,830.2C1699.6,831.2 1703.7,831.9 1711.4,832.8C1719.1,833.7 1726.9,835.0 1740.0,835.5C1753.1,836.0 1773.3,835.9 1790.0,835.9C1806.7,835.9 1821.7,835.6 1840.0,835.6C1858.3,835.6 1885.8,835.8 1900.0,835.9C1914.2,836.0 1917.8,836.7 1925.0,836.0C1932.2,835.3 1937.1,834.0 1943.4,831.7C1949.7,829.4 1957.3,826.0 1962.8,822.0C1968.3,818.0 1972.5,812.6 1976.5,807.5C1980.6,802.5 1983.8,797.9 1987.1,791.7C1990.3,785.6 1993.4,777.9 1996.1,770.6C1998.8,763.3 2001.2,755.0 2003.5,747.7C2005.7,740.3 2007.4,734.4 2009.5,726.4C2011.6,718.5 2013.5,710.1 2016.0,700.0C2018.5,689.9 2021.0,680.5 2024.3,666.0C2027.7,651.5 2032.7,629.6 2036.3,613.0C2039.9,596.4 2043.7,576.7 2045.9,566.3C2048.0,555.9 2048.1,556.0 2049.4,550.4C2050.7,544.8 2052.2,538.6 2053.7,532.7C2055.2,526.8 2056.7,520.6 2058.2,515.0C2059.7,509.4 2061.1,504.2 2062.8,499.2C2064.4,494.2 2066.7,488.4 2068.1,485.0C2069.6,481.6 2070.2,480.0 2071.5,478.5C2072.8,477.0 2074.4,476.1 2075.8,476.1C2077.2,476.1 2078.7,477.0 2080.0,478.5C2081.3,480.0 2082.1,481.6 2083.6,485.0C2085.0,488.5 2087.2,494.2 2088.9,499.2C2090.6,504.2 2092.0,509.7 2093.5,515.0C2095.0,520.3 2096.4,525.3 2097.8,530.9C2099.3,536.5 2100.9,542.7 2102.4,548.6C2103.9,554.5 2104.2,555.6 2106.8,566.3C2109.3,577.0 2113.9,596.4 2117.9,613.0C2121.8,629.6 2126.0,648.3 2130.6,665.9C2135.1,683.6 2141.3,706.5 2145.1,718.8C2148.8,731.2 2150.3,733.0 2153.0,740.0C2155.8,747.1 2158.4,754.3 2161.5,761.0C2164.7,767.8 2168.3,774.3 2172.0,780.5C2175.8,786.7 2179.6,793.4 2184.0,798.4C2188.4,803.4 2192.9,806.9 2198.2,810.7C2203.5,814.5 2210.0,818.5 2215.9,821.3C2221.8,824.1 2226.2,825.6 2233.6,827.5C2241.0,829.4 2251.3,831.5 2260.1,832.8C2268.9,834.1 2276.6,834.9 2286.6,835.5C2296.6,836.1 2306.9,836.2 2320.0,836.5C2333.1,836.8 2357.5,836.9 2365.0,837.0" stroke="#ffa0a0" stroke-width="6.3"/>
<rect x="1344" y="104.4" width="1021.5999999999999" height="816.8000000000001" fill="none" stroke="#000" stroke-width="6"/>
<rect x="1500.6" y="908.7" width="6" height="10" fill="#000"/>
<rect x="1819.4" y="908.7" width="6" height="10" fill="#000"/>
<rect x="2138.3" y="908.7" width="6" height="10" fill="#000"/>
<rect x="1659.9" y="913.7" width="6" height="5" fill="#000"/>
<rect x="1978.8" y="913.7" width="6" height="5" fill="#000"/>
<rect x="2297.8" y="913.7" width="6" height="5" fill="#000"/>
<circle cx="1508.4" cy="210.2" r="51" fill="none" stroke="#0070c0" stroke-width="6.2" stroke-dasharray="16.8 6.089" stroke-dashoffset="8.4"/>
<line x1="1778.5" y1="145.3" x2="1877" y2="145.3" stroke="#04b76e" stroke-width="6.6" stroke-linecap="round"/>
<line x1="1778.5" y1="201.3" x2="1877" y2="201.3" stroke="#04dc9e" stroke-width="6.6" stroke-linecap="round"/>
<line x1="1778.5" y1="255.9" x2="1877" y2="255.9" stroke="#76e9c2" stroke-width="6.6" stroke-linecap="round"/>
<line x1="2092.4" y1="145.3" x2="2193.7" y2="145.3" stroke="#ff4044" stroke-width="6.6" stroke-linecap="round"/>
<line x1="2092.4" y1="201.3" x2="2193.7" y2="201.3" stroke="#ff7a7c" stroke-width="6.6" stroke-linecap="round"/>
<line x1="2090.5" y1="255.9" x2="2190" y2="255.9" stroke="#ffa0a0" stroke-width="6.6" stroke-linecap="round"/>
<text class="lgb" x="1886.5" y="159.2">GQD-a</text>
<text class="lgb" x="1886.5" y="216">GQD-b</text>
<text class="lgb" x="1886.5" y="270.6">GQD-c</text>
<text class="lgb" x="2204" y="159.2">RQD-a</text>
<text class="lgb" x="2204" y="216">RQD-b</text>
<text class="lgb" x="2202" y="270.6">RQD-c</text>
<text class="pl" x="1229" y="102.8">b</text>
<text class="ax yl" transform="translate(1282.5,722) rotate(-90)">Intensity <tspan class="pw">(a.u.)</tspan></text>
<text class="tk" x="1500.7" y="987">450</text>
<text class="tk" x="1822.2" y="987">550</text>
<text class="tk" x="2139.9" y="987">650</text>
<text class="ax" x="1572" y="1097">Wavelength <tspan class="pw">(nm)</tspan></text>
</g>
</g>
</svg></body></html>
